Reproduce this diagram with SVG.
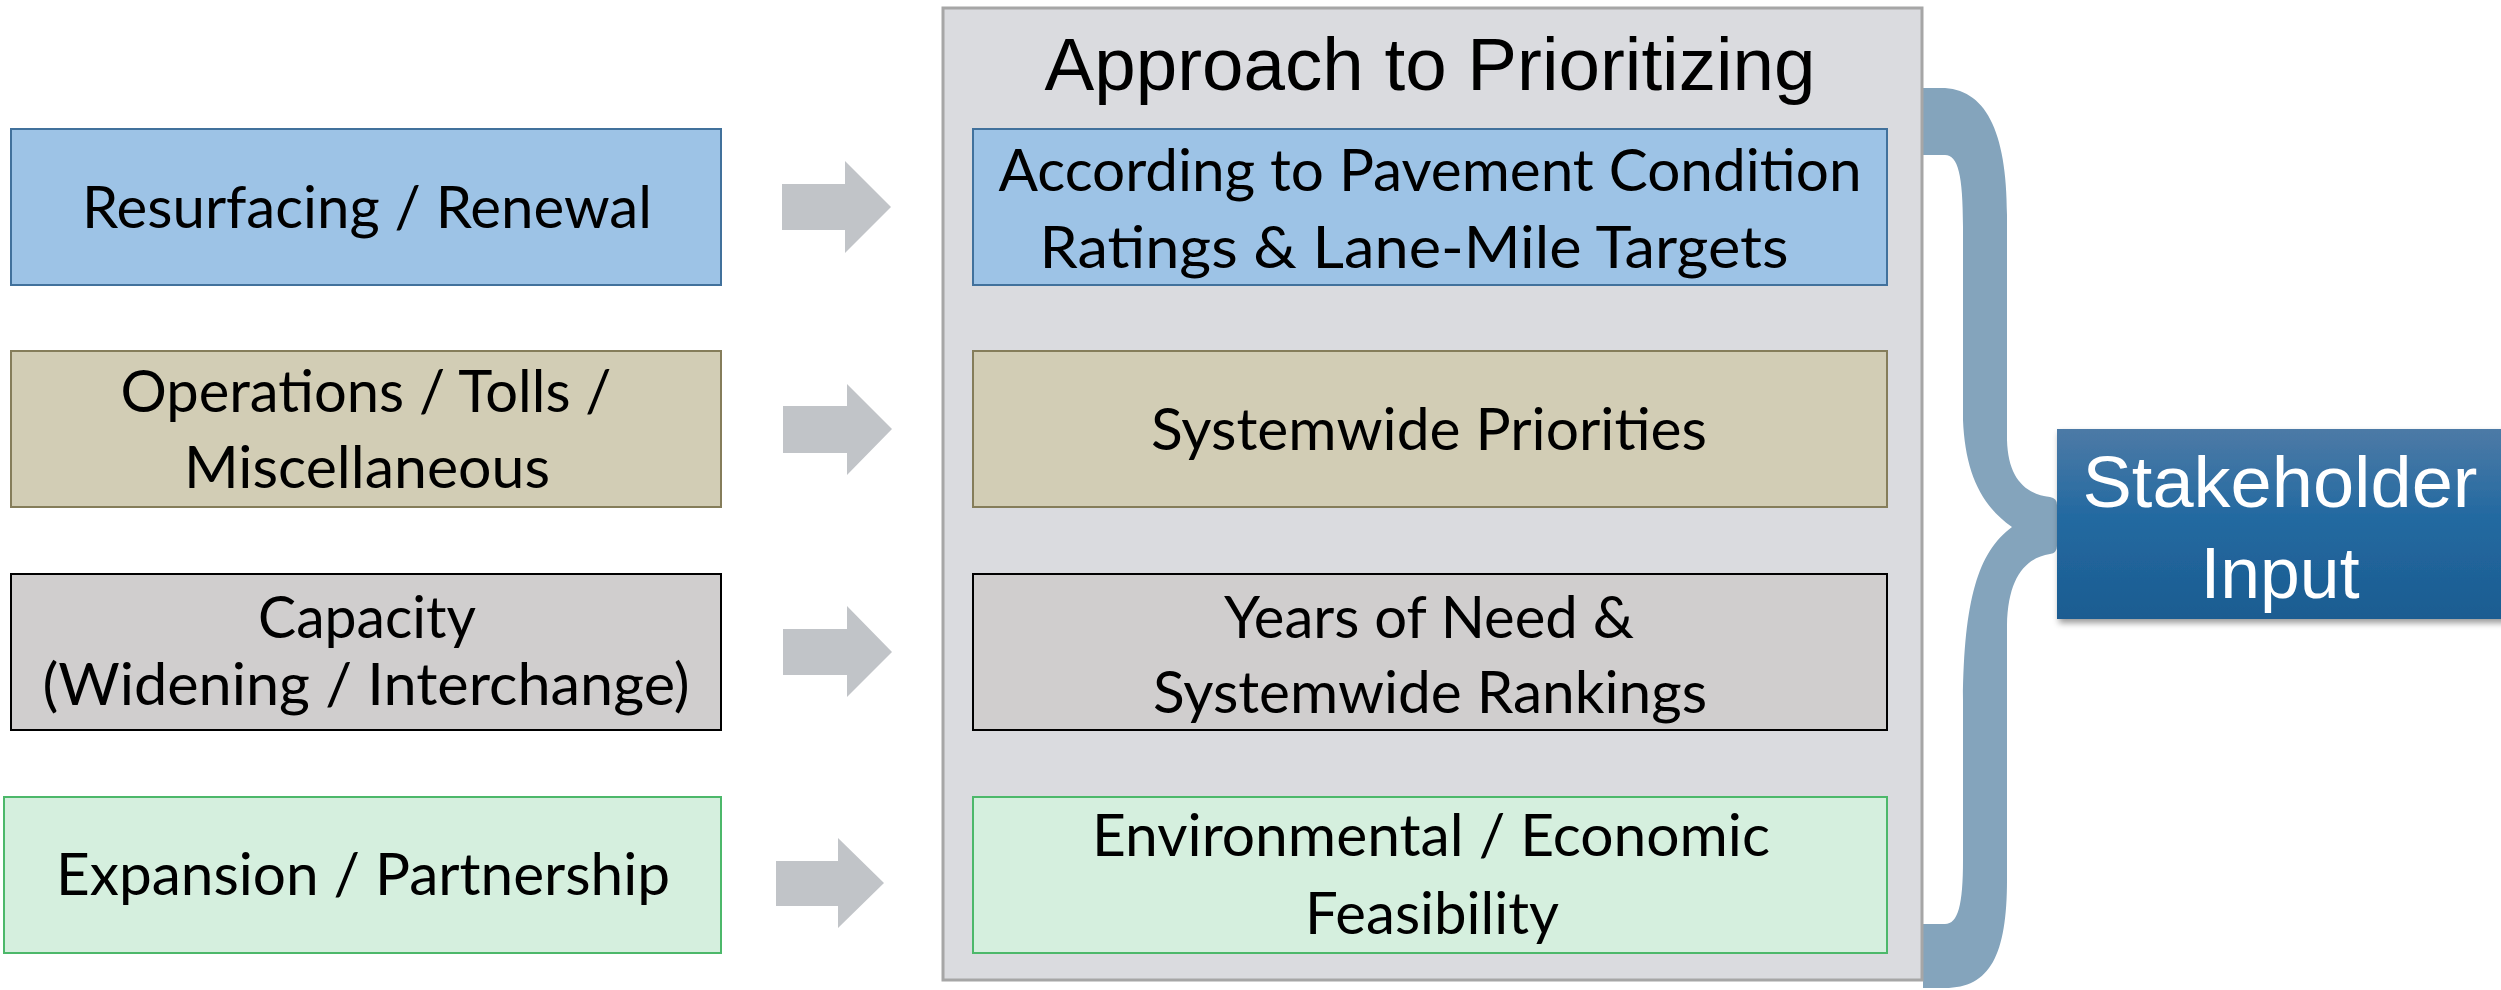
<svg xmlns="http://www.w3.org/2000/svg" width="2501" height="990" viewBox="0 0 2501 990">
<defs>
<style>
.cal{font-family:Lato,"Open Sans","Liberation Sans",sans-serif;font-size:58px;fill:#000;text-anchor:middle}
.ari{font-family:"Liberation Sans",Arial,sans-serif;text-anchor:middle}
.arrow{fill:#c1c4c8}
.b1{fill:#9dc3e6;stroke:#41719c;stroke-width:2}
.b2{fill:#d2cdb5;stroke:#857d5a;stroke-width:2}
.b3{fill:#d0cece;stroke:#000;stroke-width:2}
.b4{fill:#d5efde;stroke:#4cb86a;stroke-width:2}
</style>
<linearGradient id="sg" x1="0" y1="0" x2="0" y2="1">
<stop offset="0" stop-color="#4d7aa6"/>
<stop offset="0.45" stop-color="#246aa1"/>
<stop offset="1" stop-color="#1b5c91"/>
</linearGradient>
<filter id="sh" x="-10%" y="-10%" width="130%" height="140%">
<feDropShadow dx="2" dy="4" stdDeviation="3" flood-color="#000" flood-opacity="0.4"/>
</filter>
</defs>
<rect width="2501" height="990" fill="#fff"/>

<g id="brace">
<path fill="#84a4bc" d="M1923 88 L1941 88 C1985 88 2007 130 2007 215 L2007 440 C2008 478 2025 494 2050 497 Q2057 498 2057 505 L2057 546 Q2057 553 2050 554 C2025 558 2008 578 2007 625 L2007 880 C2007 955 1990 988 1945 988 L1923 988 L1923 924 L1945 924 C1958 924 1963 905 1963 860 L1963 700 C1964 600 1978 552 2012 527 C1980 505 1965 470 1963 420 L1963 227 C1963 175 1958 155 1945 155 L1923 155 Z"/>
</g>

<g id="main-box">
<rect x="943" y="8" width="979" height="972" fill="#dadbdf" stroke="#a6a6a6" stroke-width="3"/>
<text class="ari" x="1430" y="90" font-size="75" textLength="771" lengthAdjust="spacingAndGlyphs">Approach to Prioritizing</text>
</g>

<g id="left-1">
<rect class="b1" x="11" y="129" width="710" height="156"/>
<text class="cal" x="367" y="228" textLength="570" lengthAdjust="spacingAndGlyphs">Resurfacing / Renewal</text>
</g>
<g id="left-2">
<rect class="b2" x="11" y="351" width="710" height="156"/>
<text class="cal" x="366" y="412" textLength="491" lengthAdjust="spacingAndGlyphs">Operations / Tolls /</text>
<text class="cal" x="367" y="488" textLength="366" lengthAdjust="spacingAndGlyphs">Miscellaneous</text>
</g>
<g id="left-3">
<rect class="b3" x="11" y="574" width="710" height="156"/>
<text class="cal" x="367" y="638" textLength="218" lengthAdjust="spacingAndGlyphs">Capacity</text>
<text class="cal" x="366" y="705" textLength="647" lengthAdjust="spacingAndGlyphs">(Widening / Interchange)</text>
</g>
<g id="left-4">
<rect class="b4" x="4" y="797" width="717" height="156"/>
<text class="cal" x="363" y="895" textLength="614" lengthAdjust="spacingAndGlyphs">Expansion / Partnership</text>
</g>

<g id="inner-1">
<rect class="b1" x="973" y="129" width="914" height="156"/>
<text class="cal" x="1430" y="191" textLength="863" lengthAdjust="spacingAndGlyphs">According to Pavement Condition</text>
<text class="cal" x="1414" y="268" textLength="749" lengthAdjust="spacingAndGlyphs">Ratings &amp; Lane-Mile Targets</text>
</g>
<g id="inner-2">
<rect class="b2" x="973" y="351" width="914" height="156"/>
<text class="cal" x="1429" y="450" textLength="556" lengthAdjust="spacingAndGlyphs">Systemwide Priorities</text>
</g>
<g id="inner-3">
<rect class="b3" x="973" y="574" width="914" height="156"/>
<text class="cal" x="1429" y="638" textLength="410" lengthAdjust="spacingAndGlyphs">Years of Need &amp;</text>
<text class="cal" x="1430" y="713" textLength="554" lengthAdjust="spacingAndGlyphs">Systemwide Rankings</text>
</g>
<g id="inner-4">
<rect class="b4" x="973" y="797" width="914" height="156"/>
<text class="cal" x="1431" y="856" textLength="678" lengthAdjust="spacingAndGlyphs">Environmental / Economic</text>
<text class="cal" x="1432" y="934" textLength="254" lengthAdjust="spacingAndGlyphs">Feasibility</text>
</g>

<g id="stakeholder">
<rect x="2057" y="429" width="460" height="190" fill="url(#sg)" filter="url(#sh)"/>
<text class="ari" x="2280" y="507" font-size="73" fill="#fff" textLength="395" lengthAdjust="spacingAndGlyphs">Stakeholder</text>
<text class="ari" x="2280" y="598" font-size="73" fill="#fff" textLength="159" lengthAdjust="spacingAndGlyphs">Input</text>
</g>

<g id="connectors">
<path class="arrow" d="M782 184 L845 184 L845 161 L891 207 L845 253 L845 230 L782 230 Z"/>
<path class="arrow" d="M783 406 L847 406 L847 384 L892 429 L847 475 L847 453 L783 453 Z"/>
<path class="arrow" d="M783 629 L847 629 L847 606 L892 652 L847 697 L847 675 L783 675 Z"/>
<path class="arrow" d="M776 861 L838 861 L838 838 L884 883 L838 928 L838 906 L776 906 Z"/>
</g>
</svg>
